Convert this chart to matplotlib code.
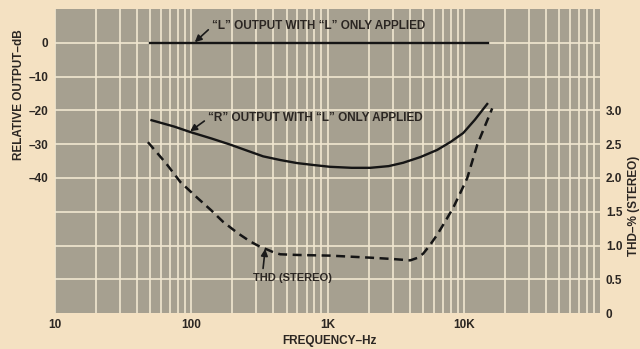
import matplotlib
matplotlib.use("Agg")
import matplotlib.pyplot as plt
from matplotlib.ticker import FixedLocator, NullFormatter

plt.rcParams['font.family'] = ['Liberation Sans', 'DejaVu Sans']
plt.rcParams['font.weight'] = 'bold'

# measured response curves
l_freq = [50, 15000]
l_db = [0, 0]

r_freq = [51, 75, 98, 140, 192, 260, 336, 450, 597, 800, 1040, 1500, 2050, 2800,
          3580, 4800, 6360, 8000, 9870, 12000, 14800]
r_db = [-22.9, -24.8, -26.4, -28.3, -30.1, -32.0, -33.6, -34.7, -35.6, -36.2, -36.7,
        -37.0, -37.0, -36.5, -35.5, -33.8, -31.7, -29.3, -26.7, -22.8, -18.1]

thd_freq = [48, 65, 83, 110, 140, 171, 220, 270, 320, 360, 400, 448, 600, 1040, 2050,
            3000, 4030, 4600, 5020, 5600, 6360, 7300, 8340, 9400, 10570, 12500, 16100]
thd_pct = [2.53, 2.22, 1.94, 1.71, 1.52, 1.35, 1.18, 1.06, 0.98, 0.94, 0.90, 0.87, 0.86,
           0.85, 0.82, 0.80, 0.78, 0.82, 0.88, 1.0, 1.16, 1.36, 1.56, 1.78, 2.0, 2.49, 3.03]

db_ticks = [0, -10, -20, -30, -40]
thd_ticks = [0, 0.5, 1.0, 1.5, 2.0, 2.5, 3.0]
thd_labels = ['0', '0.5', '1.0', '1.5', '2.0', '2.5', '3.0']
freq_ticks = [10, 100, 1000, 10000]
freq_labels = ['10', '100', '1K', '10K']

paper = '#f4e1c2'
panel = '#a6a090'
grid = '#f1e7d0'
ink = '#2b2622'
fs = 8.5

fig = plt.figure(figsize=(6.4, 3.49), dpi=100, facecolor=paper)
ax = fig.add_axes([0.086, 0.103, 0.852, 0.871])
ax.set_facecolor(panel)
ax.set_xscale('log')
ax.set_xlim(10, 100000)
ax.set_ylim(-80, 10)

# ruled grid: every integer step in each decade, 10 dB rows
minor = [m * 10 ** d for d in range(1, 5) for m in range(1, 10)]
ax.xaxis.set_major_locator(FixedLocator(freq_ticks))
ax.xaxis.set_minor_locator(FixedLocator(minor))
ax.xaxis.set_minor_formatter(NullFormatter())
ax.set_xticklabels(freq_labels)
ax.set_yticks(db_ticks)
ax.set_yticklabels([str(t).replace('-', '\u2013') for t in db_ticks])
for v in minor:
    ax.axvline(v, color=grid, lw=1.2, zorder=1)
for v in range(-70, 10, 10):
    ax.axhline(v, color=grid, lw=1.2, zorder=1)

for s in ax.spines.values():
    s.set_visible(False)
ax.tick_params(axis='both', which='both', length=0, colors=ink, labelsize=fs)
ax.tick_params(axis='y', pad=5)
ax.tick_params(axis='x', pad=4)

ax.plot(l_freq, l_db, color='#151515', lw=1.7, zorder=3)
ax.plot(r_freq, r_db, color='#151515', lw=1.7, zorder=3)

ax2 = ax.twinx()
ax2.set_ylim(0, 4.5)
ax2.set_yticks(thd_ticks)
ax2.set_yticklabels(thd_labels)
for s in ax2.spines.values():
    s.set_visible(False)
ax2.tick_params(axis='y', length=0, colors=ink, labelsize=fs, pad=4)
ax2.plot(thd_freq, thd_pct, color='#151515', lw=1.8, ls=(0, (3.6, 2.2)), zorder=3)

arrow = dict(arrowstyle='-|>', color='#1a1a1a', lw=1.2, mutation_scale=10,
             shrinkA=1, shrinkB=0, relpos=(0, 0.5))
ax.annotate('\u201cL\u201d OUTPUT WITH \u201cL\u201d ONLY APPLIED', xy=(106, 0.2), xytext=(142, 4.9),
            fontsize=fs, color=ink, ha='left', va='center', arrowprops=arrow, zorder=4)
ax.annotate('\u201cR\u201d OUTPUT WITH \u201cL\u201d ONLY APPLIED', xy=(98, -26.2), xytext=(133, -22.3),
            fontsize=fs, color=ink, ha='left', va='center', arrowprops=arrow, zorder=4)
ax.annotate('THD (STEREO)', xy=(348, -61.0), xytext=(284, -69.5),
            fontsize=fs - 0.5, color=ink, ha='left', va='center', zorder=4,
            arrowprops=dict(arrow, relpos=(0.12, 1.0)))

fig.text(0.029, 0.73, 'RELATIVE OUTPUT\u2013dB', rotation=90, ha='center', va='center',
         fontsize=fs, color=ink)
fig.text(0.99, 0.41, 'THD\u2013% (STEREO)', rotation=90, ha='center', va='center',
         fontsize=fs, color=ink)
fig.text(0.515, 0.023, 'FREQUENCY\u2013Hz', ha='center', va='center', fontsize=fs, color=ink)

fig.savefig('out.png', dpi=100, facecolor=paper)
